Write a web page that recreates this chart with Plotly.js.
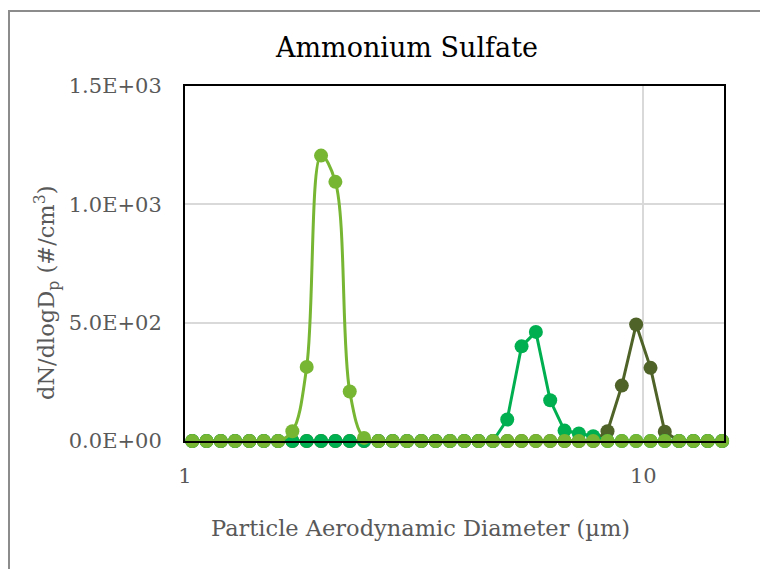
<!DOCTYPE html>
<html>
<head>
<meta charset="utf-8">
<script src="https://cdn.plot.ly/plotly-3.0.1.min.js"></script>
<style>
  html, body { margin: 0; padding: 0; overflow: hidden; background: #fff; }
  #chart { position: absolute; left: 0; top: 0; width: 760px; height: 569px; }
  #frame { position: absolute; left: 8px; top: 10px; width: 900px; height: 700px;
           border-top: 2px solid #8c8c8c; border-left: 2px solid #8c8c8c; pointer-events: none; }
</style>
</head>
<body>
<div id="chart"></div>
<div id="frame"></div>
<script>
// Particle aerodynamic diameter (µm), APS channel midpoints
const diameters = [1.037, 1.114, 1.197, 1.286, 1.382, 1.486, 1.596, 1.715, 1.843, 1.981,
                   2.129, 2.288, 2.458, 2.642, 2.839, 3.051, 3.278, 3.523, 3.786, 4.068,
                   4.371, 4.698, 5.048, 5.425, 5.829, 6.264, 6.732, 7.234, 7.774, 8.354,
                   8.977, 9.647, 10.37, 11.14, 11.97, 12.86, 13.82, 14.86];

// dN/dlogDp (#/cm3)
const seriesLarge = [0, 0, 0, 0, 0, 0, 0, 0, 0, 0,
                     0, 0, 0, 0, 0, 0, 0, 0, 0, 0,
                     0, 0, 0, 0, 0, 0, 0, 0, 0, 41,
                     234, 492, 309, 39, 0, 0, 0, 0];
const seriesMedium = [0, 0, 0, 0, 0, 0, 0, 0, 0, 0,
                      0, 0, 0, 0, 0, 0, 0, 0, 0, 0,
                      0, 0, 91, 400, 461, 172, 44, 32, 20, 0,
                      0, 0, 0, 0, 0, 0, 0, 0];
const seriesSmall = [0, 0, 0, 0, 0, 0, 0, 41, 313, 1206,
                     1095, 209, 13, 0, 0, 0, 0, 0, 0, 0,
                     0, 0, 0, 0, 0, 0, 0, 0, 0, 0,
                     0, 0, 0, 0, 0, 0, 0, 0];

const xTickVals = [1, 10];
const xTickText = ["1", "10"];
const yTickVals = [0, 500, 1000, 1500];
const yTickText = ["0.0E+00", "5.0E+02", "1.0E+03", "1.5E+03"];

const chartTitle = 'Ammonium Sulfate';
const xTitle = 'Particle Aerodynamic Diameter (µm)';
const yTitle = 'dN/dlogD<sub>p</sub> (#/cm<sup>3</sup>)';

const FONT = "DejaVu Serif, serif";

function trace(y, color, shape) {
  return {
    x: diameters, y: y, type: 'scatter', mode: 'lines+markers',
    line: { color: color, width: 3, shape: shape },
    marker: { color: color, size: 14 },
    cliponaxis: false, showlegend: false, hoverinfo: 'skip'
  };
}

const data = [
  trace(seriesLarge, '#4F6228', 'linear'),
  trace(seriesMedium, '#00B050', 'linear'),
  trace(seriesSmall, '#77B632', 'spline')
];

const PL = 185, PR = 724, PT = 86, PB = 441;
function px2paperX(px) { return (px - PL) / (PR - PL); }
function px2paperY(py) { return (PB - py) / (PB - PT); }

const layout = {
  width: 760, height: 569,
  margin: { l: PL, r: 760 - PR, t: PT, b: 569 - PB },
  paper_bgcolor: '#ffffff', plot_bgcolor: '#ffffff',
  font: { family: FONT, color: '#595959', size: 21 },
  title: {
    text: chartTitle,
    font: { family: FONT, size: 27, color: '#000000' },
    xref: 'container', x: 407 / 760, xanchor: 'center',
    yref: 'container', y: 1 - 47.5 / 569, yanchor: 'middle'
  },
  xaxis: {
    type: 'log', range: [0, Math.log10(15)],
    tickvals: xTickVals, ticktext: xTickText,
    showgrid: true, gridcolor: '#d9d9d9', gridwidth: 2,
    showline: true, linecolor: '#000000', linewidth: 2, mirror: true,
    ticks: '', ticklabelstandoff: 15,
    tickfont: { family: FONT, size: 21, color: '#595959' },
    zeroline: false
  },
  yaxis: {
    range: [0, 1500],
    tickvals: yTickVals, ticktext: yTickText,
    showgrid: true, gridcolor: '#d9d9d9', gridwidth: 2,
    showline: true, linecolor: '#000000', linewidth: 2, mirror: true,
    ticks: '', ticklabelstandoff: 17,
    tickfont: { family: FONT, size: 21, color: '#595959' },
    zeroline: false
  },
  annotations: [
    { text: xTitle, xref: 'paper', yref: 'paper',
      x: px2paperX(420), y: px2paperY(528), xanchor: 'center', yanchor: 'middle',
      showarrow: false, font: { family: FONT, size: 22.5, color: '#595959' } },
    { text: yTitle, xref: 'paper', yref: 'paper', textangle: -90,
      x: px2paperX(46), y: px2paperY(293), xanchor: 'center', yanchor: 'middle',
      showarrow: false, font: { family: FONT, size: 22.5, color: '#595959' } }
  ]
};

Plotly.newPlot('chart', data, layout, { staticPlot: true, displayModeBar: false });
</script>
</body>
</html>
